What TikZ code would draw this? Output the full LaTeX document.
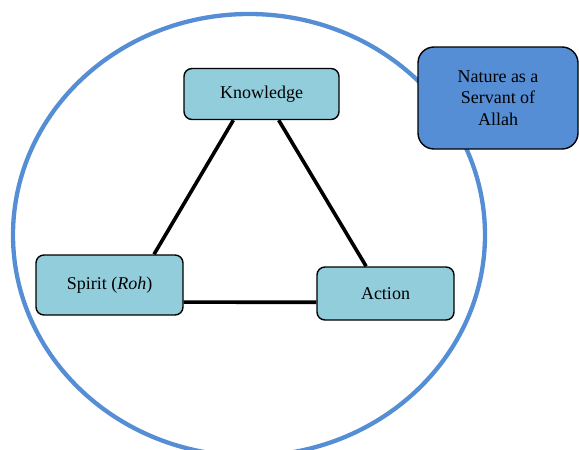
\documentclass[tikz,border=0pt]{standalone}
\usepackage{fontspec}
\setmainfont{Liberation Serif}
\usetikzlibrary{calc}
\definecolor{ringblue}{RGB}{85,142,213}
\definecolor{boxteal}{RGB}{146,205,220}
\definecolor{natblue}{RGB}{85,142,213}
\begin{document}
\begin{tikzpicture}[x=1pt,y=1pt,
  tealbox/.style={draw=black, line width=1.4pt, fill=boxteal, rounded corners=8pt,
    minimum width=#1, font=\fontsize{18}{21.5}\selectfont, inner sep=0pt},
  link/.style={draw=black, line width=3.6pt}]
\useasboundingbox (0,0) rectangle (579,-450);
\clip (0,0) rectangle (579,-450);
\draw[ringblue, line width=4.3pt] (249,-235) ellipse [x radius=236, y radius=221];
\node[tealbox=155pt, minimum height=51pt] (K) at (261.5,-94) {Knowledge};
\node[tealbox=147pt, minimum height=60pt] (S) at (109.5,-285) {Spirit (\textit{Roh})};
\node[tealbox=137pt, minimum height=53pt] (A) at (385.5,-293.5) {Action};
\node[draw=black, line width=1.4pt, fill=natblue, rounded corners=16pt,
  minimum width=160pt, minimum height=102pt, align=center,
  font=\fontsize{18}{21.5}\selectfont] (N) at (498,-98) {Nature as a\\Servant of\\Allah};
\draw[link] ($(K.south west)!0.32!(K.south east)$) -- ($(S.north west)!0.80!(S.north east)$);
\draw[link] ($(K.south west)!0.61!(K.south east)$) -- ($(A.north west)!0.36!(A.north east)$);
\draw[link] ($(S.north east)!0.78!(S.south east)$) -- ($(A.north west)!0.66!(A.south west)$);
\end{tikzpicture}
\end{document}
